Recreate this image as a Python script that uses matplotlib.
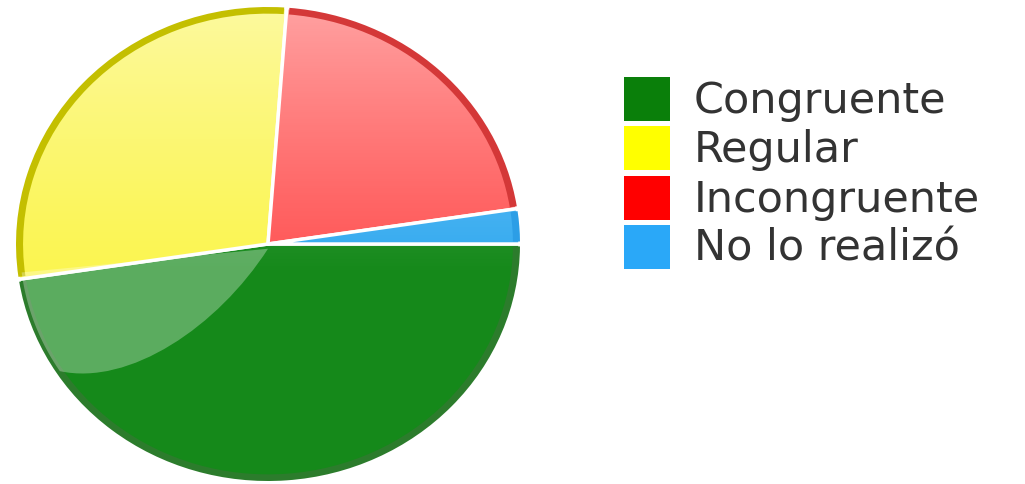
import matplotlib.pyplot as plt
import numpy as np
from matplotlib.patches import Wedge, Rectangle, Circle, PathPatch
from matplotlib.path import Path

labels = ['Congruente', 'Regular', 'Incongruente', 'No lo realizó']
values = [20, 12, 9, 1]
legend_colors = ['#0a7f0a', '#ffff00', '#ff0000', '#2aa8f8']
pie_colors = ['#15891a', '#fbf550', '#ff5555', '#33aaf0']
rim_colors = ['#2c7c2c', '#c4bf00', '#d43838', '#2c9ee6']

fig = plt.figure(figsize=(10.25, 4.85), dpi=100)

# pie axes, stretched a bit wider than tall like the original
ax = fig.add_axes([16 / 1025, 3 / 485, 504 / 1025, 474 / 485])
wedges, _ = ax.pie(values, colors=pie_colors, startangle=0, counterclock=False,
                   wedgeprops=dict(edgecolor='white', linewidth=2.5))

# darker rim on each slice
for w, c in zip(wedges, rim_colors):
    ax.add_patch(Wedge((0, 0), 1.0, w.theta1 + 0.6, w.theta2 - 0.6, width=0.028,
                       facecolor=c, edgecolor='none', zorder=4))

# light gradient towards the top
yy, xx = np.mgrid[1:-1:400j, -1:1:400j]
img = np.ones((400, 400, 4))
img[..., 3] = np.clip((yy + 0.15) / 1.15, 0, 1) ** 1.2 * 0.45
im = ax.imshow(img, extent=(-1, 1, -1, 1), aspect='auto', zorder=3)
im.set_clip_path(Circle((0, 0), 1, transform=ax.transData))

# glossy patch on lower left of the green slice
t = np.radians(np.linspace(187, 213, 20))
arc = list(zip(0.985 * np.cos(t), 0.985 * np.sin(t)))
verts = arc + [(-0.55, -0.6), (-0.2, -0.35), (0, -0.02), (arc[0][0], arc[0][1]), (0, 0)]
codes = [Path.MOVETO] + [Path.LINETO] * (len(arc) - 1) + \
        [Path.CURVE4, Path.CURVE4, Path.CURVE4, Path.LINETO, Path.CLOSEPOLY]
ax.add_patch(PathPatch(Path(verts, codes), facecolor='white', edgecolor='none',
                       alpha=0.3, zorder=5))

ax.set_aspect('auto')
ax.set_xlim(-1, 1)
ax.set_ylim(-1, 1)
ax.axis('off')

# legend drawn in pixel coordinates
lg = fig.add_axes([0, 0, 1, 1], zorder=10)
lg.set_xlim(0, 1025)
lg.set_ylim(485, 0)
lg.axis('off')
for i, (lab, c) in enumerate(zip(labels, legend_colors)):
    top = 78 + i * 49.3
    lg.add_patch(Rectangle((624, top), 46, 44, facecolor=c, edgecolor='none'))
    lg.text(694, top + 23, lab, fontsize=31, color='#333333', va='center',
            ha='left', family='DejaVu Sans')

fig.savefig('out.png', dpi=100)
